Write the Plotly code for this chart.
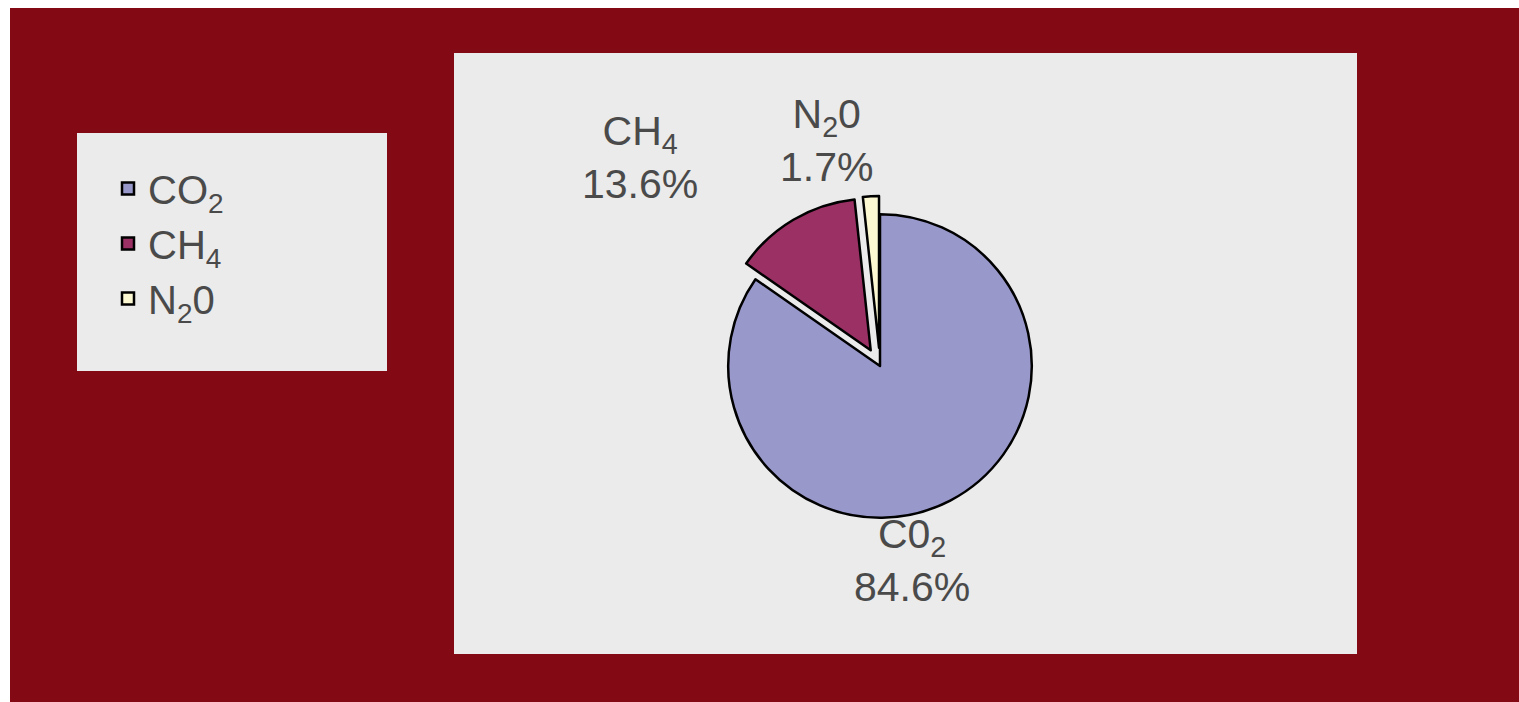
import plotly.graph_objects as go

# Data
gases = ["CO<sub>2</sub>", "CH<sub>4</sub>", "N<sub>2</sub>0"]
slice_labels = ["C0<sub>2</sub><br>84.6%", "CH<sub>4</sub><br>13.6%", "N<sub>2</sub>0<br>1.7%"]
shares = [84.6, 13.6, 1.7]
colors = ["#9898ca", "#9a3064", "#fbf8d2"]
pulls = [0, 0.12, 0.12]
# label anchor points (pixels from top-left) for the slice captions
label_px = [(912, 560), (640, 158), (826, 141)]

W, H = 1519, 702
RED = "#830a15"
GRAY = "#ebebeb"
FONT = "Liberation Sans, Arial, sans-serif"
TXT = "#4a4a4a"

cx, cy, half = 880, 366, 170

fig = go.Figure()
fig.add_trace(go.Pie(
    labels=gases,
    values=shares,
    textinfo="none",
    sort=False,
    direction="clockwise",
    rotation=0,
    pull=pulls,
    automargin=False,
    marker=dict(colors=colors, line=dict(color="#000000", width=2.5)),
    domain=dict(x=[(cx - half) / W, (cx + half) / W],
                y=[1 - (cy + half) / H, 1 - (cy - half) / H]),
    hoverinfo="label+percent",
))

annotations = [
    dict(x=px / W, y=1 - py / H, xref="paper", yref="paper", text=t,
         showarrow=False, xanchor="center", yanchor="middle", align="center",
         font=dict(family=FONT, size=41, color=TXT))
    for t, (px, py) in zip(slice_labels, label_px)
]

shapes = [
    # white margins top/left
    dict(type="rect", xref="paper", yref="paper", x0=0, x1=10 / W, y0=0, y1=1,
         fillcolor="white", line=dict(width=0), layer="below"),
    dict(type="rect", xref="paper", yref="paper", x0=0, x1=1, y0=1 - 8 / H, y1=1,
         fillcolor="white", line=dict(width=0), layer="below"),
    # grey chart panel
    dict(type="rect", xref="paper", yref="paper", x0=454 / W, x1=1357 / W,
         y0=1 - 654 / H, y1=1 - 53 / H, fillcolor=GRAY, line=dict(width=0), layer="below"),
    # legend panel
    dict(type="rect", xref="paper", yref="paper", x0=77 / W, x1=387 / W,
         y0=1 - 371 / H, y1=1 - 133 / H, fillcolor=GRAY, line=dict(width=0), layer="below"),
]

fig.update_layout(
    width=W, height=H,
    margin=dict(l=0, r=0, t=0, b=0, autoexpand=False),
    paper_bgcolor=RED,
    plot_bgcolor=RED,
    shapes=shapes,
    annotations=annotations,
    showlegend=True,
    legend=dict(
        x=108 / W, y=1 - 156 / H, xanchor="left", yanchor="top",
        bgcolor="rgba(0,0,0,0)",
        font=dict(family=FONT, size=40, color=TXT),
        itemwidth=30,
    ),
)

fig.write_html("out.html")
